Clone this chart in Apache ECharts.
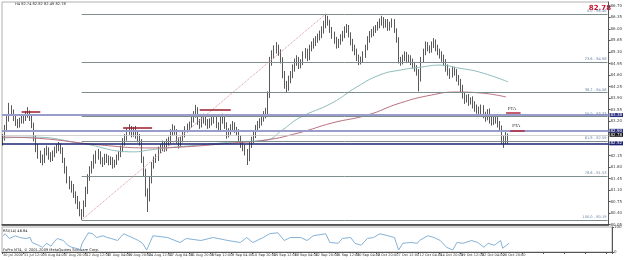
<!DOCTYPE html>
<html><head><meta charset="utf-8">
<script src="https://cdn.jsdelivr.net/npm/echarts@6/dist/echarts.min.js"></script>
<style>html,body{margin:0;padding:0;background:#fff}#c{width:625px;height:260px}</style>
</head><body><div id="c"></div>
<script>
const xLabels = ["30 Jul 2009","31 Jul 12:00","5 Aug 04:00","7 Aug 20:00","12 Aug 12:00","17 Aug 04:00","19 Aug 20:00","24 Aug 12:00","27 Aug 04:00","31 Aug 20:00","3 Sep 12:00","8 Sep 04:00","10 Sep 20:00","15 Sep 12:00","18 Sep 04:00","22 Sep 20:00","25 Sep 12:00","30 Sep 04:00","2 Oct 20:00","7 Oct 12:00","12 Oct 04:00","14 Oct 20:00","19 Oct 12:00","22 Oct 04:00","26 Oct 20:00"];
const barsPerLabel = 10;
const totalSlots = 293;

const opens = [
82.62,82.68,82.99,83.23,83.60,83.47,83.29,83.17,83.08,83.20,
83.23,83.29,83.38,83.44,83.29,83.08,82.68,82.38,82.17,82.07,
82.01,82.26,82.32,82.14,82.07,82.20,82.32,82.38,82.44,82.32,
82.01,81.71,81.41,81.25,81.16,80.95,80.80,80.65,80.43,80.34,
80.65,81.10,81.47,81.71,81.86,82.01,82.14,82.17,82.01,81.95,
82.07,82.07,81.95,82.01,81.86,81.92,82.07,82.17,82.32,82.56,
82.68,82.87,82.93,82.81,82.93,82.77,82.68,82.56,82.01,81.65,
81.04,80.86,81.41,81.86,82.01,82.07,82.32,82.38,82.47,82.38,
82.56,82.62,82.84,82.99,82.87,82.62,82.47,82.62,82.77,82.93,
82.99,83.08,83.23,83.38,83.54,83.17,83.08,83.23,83.29,83.17,
83.08,83.17,83.29,83.23,83.08,82.99,83.23,83.29,83.08,82.77,
82.87,82.99,83.08,82.93,82.87,82.68,82.47,82.38,82.26,82.07,
82.47,82.62,82.77,82.99,83.08,83.17,83.29,83.38,83.47,83.99,
84.99,85.21,85.36,85.42,85.30,85.06,84.60,84.30,84.20,84.45,
84.60,84.81,84.99,85.06,84.90,84.99,85.21,85.30,85.12,85.42,
85.51,85.60,85.67,85.73,85.82,85.97,86.12,86.33,86.21,85.97,
85.82,85.67,85.51,85.60,85.73,85.82,85.97,86.03,85.82,85.60,
85.42,85.30,85.12,85.00,85.06,85.21,85.42,85.67,85.82,85.88,
85.97,86.03,86.12,86.21,86.27,86.12,86.21,86.03,86.12,86.21,
85.97,85.67,85.06,85.00,85.12,85.21,85.06,85.12,85.00,84.90,
84.81,84.69,84.45,85.06,85.30,85.51,85.42,85.36,85.51,85.60,
85.42,85.30,85.21,85.12,84.99,84.81,84.69,84.60,84.75,84.69,
84.51,84.39,84.20,83.99,83.84,83.90,83.78,83.84,83.69,83.60,
83.54,83.47,83.60,83.38,83.29,83.47,83.23,83.17,83.29,83.23,
83.11,82.99,82.62,82.56,82.74];
const closes = [
82.68,82.99,83.23,83.60,83.47,83.29,83.17,83.08,83.20,83.23,
83.29,83.38,83.44,83.29,83.08,82.68,82.38,82.17,82.07,82.01,
82.26,82.32,82.14,82.07,82.20,82.32,82.38,82.44,82.32,82.01,
81.71,81.41,81.25,81.16,80.95,80.80,80.65,80.43,80.34,80.65,
81.10,81.47,81.71,81.86,82.01,82.14,82.17,82.01,81.95,82.07,
82.07,81.95,82.01,81.86,81.92,82.07,82.17,82.32,82.56,82.68,
82.87,82.93,82.81,82.93,82.77,82.68,82.56,82.01,81.65,81.04,
80.86,81.41,81.86,82.01,82.07,82.32,82.38,82.47,82.38,82.56,
82.62,82.84,82.99,82.87,82.62,82.47,82.62,82.77,82.93,82.99,
83.08,83.23,83.38,83.54,83.17,83.08,83.23,83.29,83.17,83.08,
83.17,83.29,83.23,83.08,82.99,83.23,83.29,83.08,82.77,82.87,
82.99,83.08,82.93,82.87,82.68,82.47,82.38,82.26,82.07,82.47,
82.62,82.77,82.99,83.08,83.17,83.29,83.38,83.47,83.99,84.99,
85.21,85.36,85.42,85.30,85.06,84.60,84.30,84.20,84.45,84.60,
84.81,84.99,85.06,84.90,84.99,85.21,85.30,85.12,85.42,85.51,
85.60,85.67,85.73,85.82,85.97,86.12,86.33,86.21,85.97,85.82,
85.67,85.51,85.60,85.73,85.82,85.97,86.03,85.82,85.60,85.42,
85.30,85.12,85.00,85.06,85.21,85.42,85.67,85.82,85.88,85.97,
86.03,86.12,86.21,86.27,86.12,86.21,86.03,86.12,86.21,85.97,
85.67,85.06,85.00,85.12,85.21,85.06,85.12,85.00,84.90,84.81,
84.69,84.45,85.06,85.30,85.51,85.42,85.36,85.51,85.60,85.42,
85.30,85.21,85.12,84.99,84.81,84.69,84.60,84.75,84.69,84.51,
84.39,84.20,83.99,83.84,83.90,83.78,83.84,83.69,83.60,83.54,
83.47,83.60,83.38,83.29,83.47,83.23,83.17,83.29,83.23,83.11,
82.99,82.62,82.56,82.74,82.78];
const highs = [
82.80,83.08,83.35,83.75,83.68,83.55,83.38,83.26,83.30,83.36,
83.40,83.50,83.62,83.52,83.36,83.15,82.76,82.50,82.30,82.18,
82.38,82.45,82.40,82.25,82.30,82.42,82.50,82.56,82.52,82.40,
82.08,81.82,81.52,81.38,81.28,81.06,80.92,80.75,80.52,80.78,
81.20,81.58,81.82,81.98,82.18,82.30,82.35,82.28,82.10,82.20,
82.20,82.15,82.12,82.10,82.02,82.18,82.28,82.45,82.68,82.80,
82.98,83.10,83.05,83.02,83.05,82.90,82.80,82.65,82.12,81.75,
81.15,81.52,81.95,82.12,82.20,82.42,82.50,82.60,82.56,82.66,
82.72,82.95,83.10,83.06,82.95,82.70,82.72,82.88,83.04,83.12,
83.18,83.34,83.50,83.69,83.62,83.26,83.34,83.42,83.38,83.26,
83.28,83.40,83.38,83.32,83.16,83.34,83.42,83.38,83.16,82.98,
83.10,83.20,83.16,83.02,82.95,82.76,82.58,82.48,82.35,82.56,
82.72,82.88,83.08,83.20,83.28,83.40,83.50,83.60,84.10,85.15,
85.35,85.50,85.60,85.52,85.38,85.14,84.72,84.42,84.58,84.72,
84.92,85.10,85.20,85.15,85.08,85.32,85.42,85.40,85.52,85.62,
85.72,85.78,85.86,85.95,86.08,86.25,86.46,86.40,86.28,86.06,
85.92,85.76,85.70,85.84,85.94,86.08,86.15,86.12,85.90,85.70,
85.52,85.40,85.22,85.16,85.32,85.52,85.78,85.94,86.00,86.08,
86.12,86.22,86.32,86.40,86.36,86.30,86.30,86.22,86.32,86.30,
86.02,85.75,85.15,85.22,85.32,85.30,85.22,85.20,85.10,85.00,
84.90,84.78,85.15,85.40,85.62,85.60,85.50,85.62,85.72,85.68,
85.52,85.40,85.32,85.22,85.08,84.92,84.80,84.86,84.85,84.78,
84.60,84.48,84.30,84.08,84.00,84.02,83.92,83.95,83.80,83.70,
83.64,83.70,83.68,83.48,83.56,83.58,83.34,83.38,83.36,83.32,
83.20,83.06,82.75,82.86,82.82];
const lows = [
82.45,82.60,82.92,83.18,83.38,83.20,83.05,82.98,83.00,83.12,
83.12,83.20,83.30,83.20,82.98,82.58,82.25,82.05,81.92,81.85,
81.92,82.15,82.02,81.95,81.98,82.10,82.22,82.28,82.20,81.92,
81.60,81.30,81.12,81.02,80.86,80.68,80.52,80.30,80.19,80.28,
80.58,80.98,81.38,81.60,81.75,81.90,82.02,81.88,81.80,81.86,
81.92,81.85,81.86,81.75,81.78,81.86,82.00,82.10,82.25,82.45,
82.60,82.78,82.70,82.72,82.66,82.55,82.45,81.92,81.52,80.90,
80.43,80.75,81.30,81.75,81.92,81.98,82.22,82.28,82.26,82.28,
82.45,82.52,82.75,82.78,82.52,82.36,82.40,82.55,82.70,82.85,
82.88,83.00,83.15,83.30,83.08,82.96,83.00,83.12,83.06,82.96,
82.98,83.06,83.12,82.98,82.88,82.92,83.12,82.96,82.66,82.70,
82.78,82.88,82.84,82.76,82.58,82.38,82.28,82.15,81.86,81.98,
82.38,82.52,82.68,82.88,82.98,83.06,83.18,83.28,83.40,83.90,
84.88,85.10,85.25,85.18,84.95,84.50,84.18,84.08,84.12,84.35,
84.50,84.70,84.88,84.78,84.80,84.90,85.10,85.02,85.05,85.32,
85.40,85.48,85.58,85.65,85.72,85.86,86.02,86.10,85.88,85.70,
85.55,85.40,85.42,85.52,85.62,85.72,85.88,85.74,85.50,85.32,
85.20,85.02,84.90,84.92,84.98,85.12,85.35,85.58,85.74,85.78,
85.88,85.95,86.02,86.10,86.02,86.04,85.94,85.95,86.04,85.88,
85.58,84.95,84.88,84.92,85.02,84.96,84.98,84.90,84.80,84.70,
84.58,84.10,84.40,84.98,85.20,85.32,85.26,85.28,85.42,85.32,
85.20,85.10,85.00,84.88,84.70,84.58,84.48,84.52,84.58,84.40,
84.28,84.08,83.88,83.72,83.76,83.66,83.70,83.58,83.48,83.42,
83.36,83.40,83.28,83.18,83.22,83.12,83.06,83.08,83.12,83.00,
82.90,82.50,82.38,82.50,82.49];

// moving averages: [bar index, price]
const maTeal = [[0,82.68],[14,82.71],[37,82.53],[63,82.26],[71,82.32],[79,82.38],[95,82.47],[111,82.56],[127,82.62],[135,82.93],[143,83.29],[159,83.75],[171,84.24],[182,84.60],[192,84.75],[202,84.84],[211,84.90],[220,84.81],[230,84.69],[244,84.39]];
const maRed = [[0,82.71],[15,82.68],[47,82.47],[71,82.38],[87,82.41],[111,82.53],[127,82.62],[143,82.84],[159,83.14],[176,83.38],[192,83.75],[207,83.99],[219,84.08],[231,84.05],[243,83.93]];

// RSI(14): [bar index, value]
const rsi = [[0,65],[1,73],[3,54],[6,65],[8,58],[11,54],[13,58],[14,38],[17,27],[19,19],[21,35],[23,23],[24,35],[26,54],[29,46],[31,27],[33,19],[35,15],[37,8],[38,35],[41,77],[43,73],[45,58],[48,65],[50,58],[52,54],[55,46],[58,73],[60,65],[62,58],[65,46],[67,35],[69,8],[72,65],[79,58],[85,38],[88,54],[95,46],[101,58],[108,46],[114,38],[117,58],[120,38],[125,58],[128,73],[132,77],[135,46],[138,58],[143,58],[146,46],[149,65],[155,73],[157,38],[161,35],[163,54],[167,58],[169,35],[172,27],[175,54],[178,58],[181,73],[185,65],[188,58],[190,8],[192,35],[196,38],[199,35],[200,46],[204,65],[207,58],[210,46],[213,19],[216,8],[218,38],[221,35],[225,46],[228,38],[231,19],[233,35],[236,27],[239,46],[240,15],[243,35]];
const rsiText = "RSI(14) 46.84";

// Fibonacci
const fibLevels = [0, 23.6, 38.2, 50.0, 61.8, 78.6, 100.0];
const fibHigh = 86.46, fibLow = 80.19;
const fibLowBar = 38, fibHighBar = 156;

// horizontal levels
const blueLevels = [83.38, 82.90];
const navyLevel = 82.52;
const zoneLines = [[9,18,83.47],[58,72,82.99],[95,110,83.54]];
const ptaLines = [[243,250,83.44],[245,252,82.91]];

const FONT = 'DejaVu Sans';
const categories = Array.from({length: totalSlots}, (_, i) =>
  (i % barsPerLabel === 0 && xLabels[i / barsPerLabel]) ? xLabels[i / barsPerLabel] : '');
const candleData = closes.map((c, i) => [opens[i], c, lows[i], highs[i]]);
const last = closes.length - 1;
const lastIdx = totalSlots - 1;

const fibLines = fibLevels.map(p => {
  const v = +(fibHigh - (fibHigh - fibLow) * p / 100).toFixed(2);
  return [{coord: [fibLowBar, v], label: {formatter: p.toFixed(1) + ' - ' + v.toFixed(2)}}, {coord: [lastIdx, v]}];
});

const chart = echarts.init(document.getElementById('c'), null, {renderer: 'canvas'});
chart.setOption({
  animation: false,
  backgroundColor: '#ffffff',
  textStyle: {fontFamily: FONT},
  grid: [
    {left: 2, right: 13, top: 2, height: 222.5, show: true, borderColor: '#b0b0b0', borderWidth: 1},
    {left: 2, right: 13, top: 227, height: 25, show: true, borderColor: '#b0b0b0', borderWidth: 1}
  ],
  xAxis: [
    {type: 'category', gridIndex: 0, data: categories, boundaryGap: true,
     axisLine: {show: true, lineStyle: {color: '#333', width: 1.5}}, axisTick: {show: false}, axisLabel: {show: false}, splitLine: {show: false}},
    {type: 'category', gridIndex: 1, data: categories, boundaryGap: true,
     axisLine: {show: true, lineStyle: {color: '#555', width: 1}},
     axisTick: {show: true, interval: barsPerLabel - 1, length: 2, lineStyle: {color: '#555'}},
     axisLabel: {show: true, interval: barsPerLabel - 1, showMinLabel: true, hideOverlap: false, fontSize: 3.5, color: '#333', align: 'left', margin: 1.5, fontFamily: FONT},
     splitLine: {show: false}}
  ],
  yAxis: [
    {type: 'value', gridIndex: 0, position: 'right', min: 80.05, max: 86.82, interval: 0.35, scale: true,
     axisLine: {show: true, lineStyle: {color: '#555'}}, axisTick: {show: true, length: 2, lineStyle: {color: '#555'}},
     axisLabel: {fontSize: 4, color: '#444', margin: 2, showMaxLabel: false, formatter: v => v.toFixed(2), fontFamily: FONT},
     splitLine: {show: false}},
    {type: 'value', gridIndex: 1, position: 'right', min: 0, max: 100, interval: 100,
     axisLine: {show: true, lineStyle: {color: '#555'}}, axisTick: {show: true, length: 2},
     axisLabel: {fontSize: 4, color: '#444', margin: 2, fontFamily: FONT}, splitLine: {show: false}}
  ],
  series: [
    {type: 'line', xAxisIndex: 0, yAxisIndex: 0, data: [], silent: true,
     markLine: {symbol: 'none', silent: true, lineStyle: {color: '#7d8c8c', width: 1, type: 'solid'},
       label: {show: true, position: 'insideEndTop', fontSize: 3.6, color: '#6f86a8', distance: 1, fontFamily: FONT},
       data: fibLines}},
    {type: 'line', xAxisIndex: 0, yAxisIndex: 0, data: [], silent: true,
     markLine: {symbol: 'none', silent: true, label: {show: false},
       lineStyle: {color: '#d9959c', width: 1, type: 'dotted'},
       data: [[{coord: [fibLowBar, fibLow]}, {coord: [fibHighBar, fibHigh]}]]}},
    {type: 'line', xAxisIndex: 0, yAxisIndex: 0, data: [], silent: true,
     markLine: {symbol: 'none', silent: true,
       lineStyle: {color: '#9a9ccc', width: 2, type: 'solid'},
       label: {show: true, position: 'end', distance: 1, fontSize: 4, color: '#fff', backgroundColor: '#2a2f80', padding: [0, 1], formatter: p => p.value.toFixed(2), fontFamily: FONT},
       data: blueLevels.map(v => ({yAxis: v}))}},
    {type: 'line', xAxisIndex: 0, yAxisIndex: 0, data: [], silent: true,
     markLine: {symbol: 'none', silent: true,
       lineStyle: {color: '#1c2470', width: 1.5, type: 'solid'},
       label: {show: true, position: 'end', distance: 1, fontSize: 4, color: '#fff', backgroundColor: '#1c2470', padding: [0, 1], formatter: p => p.value.toFixed(2), fontFamily: FONT},
       data: [{yAxis: navyLevel}]}},
    {type: 'line', xAxisIndex: 0, yAxisIndex: 0, data: [], silent: true,
     markLine: {symbol: 'none', silent: true,
       lineStyle: {color: '#c8c8c8', width: 0.8, type: 'solid'},
       label: {show: true, position: 'end', distance: 1, fontSize: 4, color: '#fff', backgroundColor: '#111', padding: [0, 1], formatter: p => p.value.toFixed(2), fontFamily: FONT},
       data: [{yAxis: closes[last]}]}},
    {type: 'line', xAxisIndex: 0, yAxisIndex: 0, data: [], silent: true,
     markLine: {symbol: 'none', silent: true, label: {show: false},
       lineStyle: {color: '#9b1b2c', width: 1.5, type: 'solid'},
       data: zoneLines.map(z => [{coord: [z[0], z[2]]}, {coord: [z[1], z[2]]}])}},
    {type: 'line', xAxisIndex: 0, yAxisIndex: 0, data: [], silent: true,
     markLine: {symbol: 'none', silent: true,
       lineStyle: {color: '#b0283c', width: 1.5, type: 'solid'},
       label: {show: true, position: 'insideStartTop', distance: 2, fontSize: 4.5, color: '#222', fontFamily: 'Liberation Serif', formatter: 'PTA'},
       data: ptaLines.map(z => [{coord: [z[0], z[2]]}, {coord: [z[1], z[2]]}])}},
    {type: 'line', xAxisIndex: 0, yAxisIndex: 0, data: maTeal, smooth: true, symbol: 'none', silent: true,
     lineStyle: {color: '#8fbcbc', width: 1}},
    {type: 'line', xAxisIndex: 0, yAxisIndex: 0, data: maRed, smooth: true, symbol: 'none', silent: true,
     lineStyle: {color: '#b8707e', width: 1}},
    {type: 'candlestick', xAxisIndex: 0, yAxisIndex: 0, data: candleData, barWidth: 1.3, silent: true,
     itemStyle: {color: '#ffffff', color0: '#111111', borderColor: '#111111', borderColor0: '#111111', borderWidth: 0.7}},
    {type: 'line', xAxisIndex: 1, yAxisIndex: 1, data: rsi, symbol: 'none', silent: true,
     lineStyle: {color: '#86b2d6', width: 1}}
  ],
  graphic: [
    {type: 'text', left: 15, top: 2, style: {text: 'H4 ' + [opens[last], highs[last], lows[last], closes[last]].map(v => v.toFixed(2)).join(' '), fontSize: 3.6, fill: '#222', fontFamily: FONT}},
    {type: 'text', right: 14, top: 5, style: {text: closes[last].toFixed(2), fontSize: 7, fontWeight: 'bold', fill: '#c8102e', fontFamily: FONT}},
    {type: 'text', left: 3, top: 229, style: {text: rsiText, fontSize: 3.6, fill: '#222', fontFamily: FONT}},
    {type: 'text', left: 3, top: 248, style: {text: 'FxPro MT4, © 2001-2009 MetaQuotes Software Corp.', fontSize: 3.6, fill: '#222', fontFamily: FONT}}
  ]
});
</script></body></html>
